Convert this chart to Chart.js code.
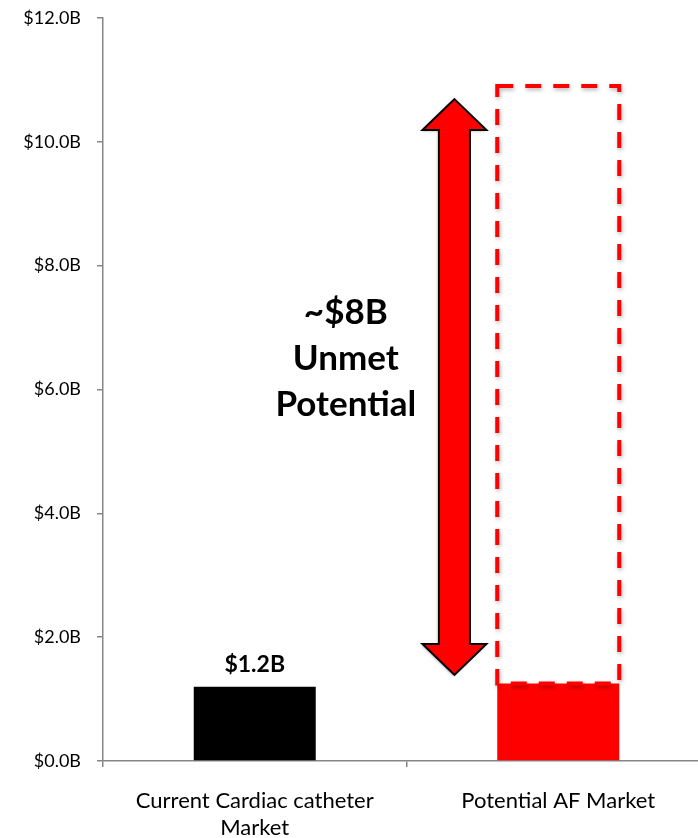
<!DOCTYPE html>
<html><head><meta charset="utf-8">
<script src="https://cdn.jsdelivr.net/npm/chart.js@4"></script>
<style>html,body{margin:0;padding:0;background:#fff;overflow:hidden;width:698px;height:838px}
#wrap{width:720px;height:838px}</style></head>
<body><div id="wrap"><canvas id="c" width="720" height="838"></canvas></div>
<script>
const categories = [['Current Cardiac catheter', 'Market'], 'Potential AF Market'];
const marketValues = [1.2, 1.25];
const potentialTop = [null, 10.9];
const valueLabels = ['$1.2B', ''];
const unmetRange = [1.39, 10.69];
const unmetText = ['~$8B', 'Unmet', 'Potential'];
const yTickValues = [0, 2, 4, 6, 8, 10, 12];

const FONT = 'Lato, "Open Sans", sans-serif';
const AXIS = '#868686';

const floating = potentialTop.map((t, i) => t === null ? null : [marketValues[i], t]);

const overlay = {
  id: 'overlay',
  afterDatasetsDraw(chart) {
    const ctx = chart.ctx, xs = chart.scales.x, ys = chart.scales.y;
    const meta = chart.getDatasetMeta(1);
    meta.data.forEach((bar, i) => {
      if (floating[i] === null) return;
      const p = bar.getProps(['x', 'y', 'base', 'width'], true);
      ctx.save();
      ctx.strokeStyle = '#ff0000';
      ctx.lineWidth = 4;
      ctx.setLineDash([16, 12]);
      ctx.shadowColor = 'rgba(0,0,0,0.3)';
      ctx.shadowBlur = 4; ctx.shadowOffsetX = 1; ctx.shadowOffsetY = 2;
      ctx.strokeRect(p.x - p.width / 2, p.y, p.width, p.base - p.y);
      ctx.restore();
    });
    const m0 = chart.getDatasetMeta(0);
    ctx.save();
    ctx.font = 'bold 23px ' + FONT;
    ctx.fillStyle = '#000';
    ctx.textAlign = 'center';
    ctx.textBaseline = 'middle';
    m0.data.forEach((bar, i) => {
      if (valueLabels[i]) ctx.fillText(valueLabels[i], bar.x, bar.y - 22);
    });
    ctx.restore();
    const ax = xs.getPixelForValue(0.658);
    const yTop = ys.getPixelForValue(unmetRange[1]);
    const yBot = ys.getPixelForValue(unmetRange[0]);
    const sw = 15.5, hw = 32, hl = 31;
    ctx.save();
    ctx.beginPath();
    ctx.moveTo(ax, yTop);
    ctx.lineTo(ax + hw, yTop + hl);
    ctx.lineTo(ax + sw, yTop + hl);
    ctx.lineTo(ax + sw, yBot - hl);
    ctx.lineTo(ax + hw, yBot - hl);
    ctx.lineTo(ax, yBot);
    ctx.lineTo(ax - hw, yBot - hl);
    ctx.lineTo(ax - sw, yBot - hl);
    ctx.lineTo(ax - sw, yTop + hl);
    ctx.lineTo(ax - hw, yTop + hl);
    ctx.closePath();
    ctx.shadowColor = 'rgba(0,0,0,0.35)';
    ctx.shadowBlur = 3; ctx.shadowOffsetX = -1; ctx.shadowOffsetY = 1;
    ctx.fillStyle = '#ff0000';
    ctx.fill();
    ctx.shadowColor = 'transparent';
    ctx.lineWidth = 2;
    ctx.strokeStyle = '#000';
    ctx.lineJoin = 'miter';
    ctx.stroke();
    ctx.restore();
    const tx = xs.getPixelForValue(0.30);
    const tyc = ys.getPixelForValue(6.5);
    ctx.save();
    ctx.font = 'bold 35px ' + FONT;
    ctx.fillStyle = '#000';
    ctx.textAlign = 'center';
    ctx.textBaseline = 'middle';
    unmetText.forEach((t, i) => ctx.fillText(t, tx, tyc + (i - 1) * 46));
    ctx.restore();
  }
};

new Chart(document.getElementById('c'), {
  type: 'bar',
  data: {
    labels: categories,
    datasets: [
      { label: 'Market', data: marketValues, backgroundColor: ['#000000', '#ff0000'], grouped: false,
        categoryPercentage: 1, barPercentage: 0.402, borderWidth: 0 },
      { label: 'Potential', data: floating, backgroundColor: 'rgba(0,0,0,0)', grouped: false,
        categoryPercentage: 1, barPercentage: 0.402, borderWidth: 0 }
    ]
  },
  options: {
    responsive: false,
    devicePixelRatio: 1,
    animation: false,
    layout: { padding: { top: 0, right: 10, left: 0, bottom: 0 } },
    plugins: { legend: { display: false }, tooltip: { enabled: false } },
    scales: {
      x: {
        offset: true,
        border: { color: AXIS, width: 1.5 },
        grid: { drawOnChartArea: false, drawTicks: true, tickLength: 6, color: AXIS, lineWidth: 1.5, offset: true },
        ticks: { color: '#000', font: { family: FONT, size: 22, lineHeight: 1.23 }, padding: 20, maxRotation: 0 },
        afterFit(s) { s.height = 77; }
      },
      y: {
        min: 0, max: 12,
        afterBuildTicks(s) { s.ticks = yTickValues.map(v => ({ value: v })); },
        border: { color: AXIS, width: 1.5 },
        grid: { drawOnChartArea: false, drawTicks: true, tickLength: 6, color: AXIS, lineWidth: 1.5 },
        ticks: { color: '#000', font: { family: FONT, size: 18 }, padding: 16,
          callback: v => '$' + Number(v).toFixed(1) + 'B' },
        afterFit(s) { s.width = 103; s.paddingTop = 18; }
      }
    }
  },
  plugins: [overlay]
});
</script></body></html>
